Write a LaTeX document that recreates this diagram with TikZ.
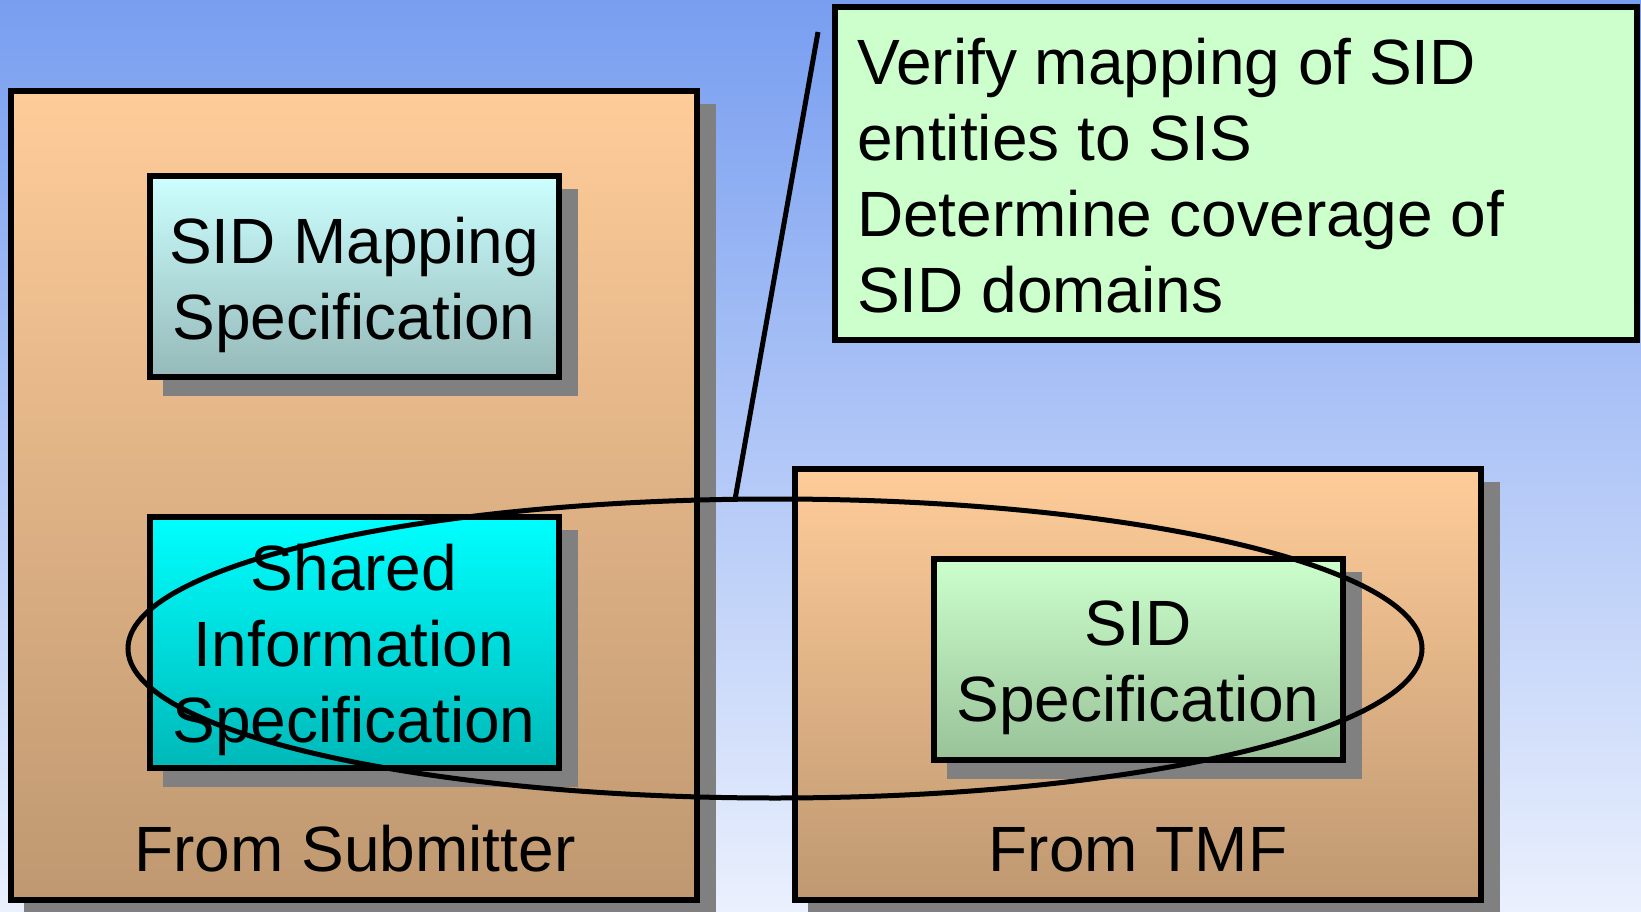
\documentclass[tikz,border=0pt]{standalone}
\usepackage{fontspec}
\setmainfont{Liberation Sans}
\usetikzlibrary{shadows,shapes.geometric}
\definecolor{bgtop}{RGB}{120,158,240}
\definecolor{bgbot}{RGB}{234,240,253}
\definecolor{peachtop}{RGB}{254,204,153}
\definecolor{peachbot}{RGB}{191,152,113}
\definecolor{mapptop}{RGB}{204,255,255}
\definecolor{mappbot}{RGB}{150,185,185}
\definecolor{cyantop}{RGB}{0,255,255}
\definecolor{cyanbot}{RGB}{0,184,184}
\definecolor{greentop}{RGB}{204,255,204}
\definecolor{greenbot}{RGB}{153,194,153}
\definecolor{notefill}{RGB}{204,255,204}
\definecolor{shgray}{RGB}{128,128,128}
\newcommand\mytopgap{\rule{0pt}{63pt}}
\begin{document}
\begin{tikzpicture}[x=1pt,y=-1pt,
  every node/.style={font=\fontsize{64}{76}\selectfont, inner sep=0pt, outer sep=0pt},
  shad/.style={drop shadow={shadow xshift=16pt, shadow yshift=-16pt, fill=shgray, draw=shgray, opacity=1}},
  boxbase/.style={draw=black, line width=6pt, shad, align=center},
  bigbox/.style={boxbase, top color=peachtop, bottom color=peachbot},
  mapbox/.style={boxbase, top color=mapptop, bottom color=mappbot},
  sisbox/.style={boxbase, top color=cyantop, bottom color=cyanbot},
  sidbox/.style={boxbase, top color=greentop, bottom color=greenbot},
  notebox/.style={draw=black, line width=6pt, fill=notefill},
  grpell/.style={ellipse, draw=black, line width=5pt},
  conn/.style={draw=black, line width=5pt}
]
\useasboundingbox (0,0) rectangle (1641,912);
\fill[top color=bgtop, bottom color=bgbot] (0,0) rectangle (1641,912);

\node[bigbox, minimum width=686.5pt, minimum height=808.5pt] (left) at (353.75,495.75) {};
\node[bigbox, minimum width=686pt, minimum height=431pt] (right) at (1138,684.5) {};

\node[mapbox, minimum width=409pt, minimum height=200pt] (map) at (354,276.5) {\mytopgap SID Mapping\\Specification};
\node[sisbox, minimum width=409pt, minimum height=251pt] (sis) at (354,642) {\mytopgap Shared\\Information\\Specification};
\node[sidbox, minimum width=409pt, minimum height=201pt] (sid) at (1138,659) {\mytopgap SID\\Specification};

\node[anchor=base] (lsub) at (355,871) {From Submitter};
\node[anchor=base] (ltmf) at (1138,871) {From TMF};

\node[notebox, minimum width=802pt, minimum height=332.5pt] (note) at (1236,173.75) {};
\node[anchor=base west, align=left] (notetext) at (857,312) {Verify mapping of SID\\entities to SIS\\Determine coverage of\\SID domains};

\node[grpell, minimum width=1294pt, minimum height=299pt] (grp) at (775,648.5) {};
\coordinate (ltip) at (818,32);
\draw[conn] (ltip) -- (grp.105.7);
\end{tikzpicture}
\end{document}
